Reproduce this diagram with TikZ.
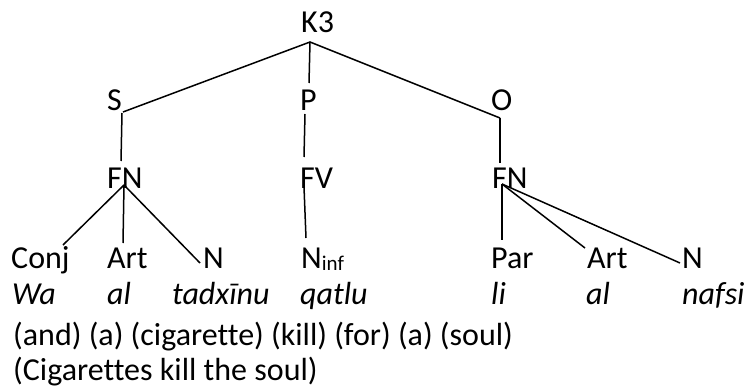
\documentclass[tikz,border=0pt]{standalone}
\usepackage{fontspec}
\setmainfont{Carlito}[RawFeature=-liga]
\begin{document}
\begin{tikzpicture}[x=1pt,y=-1pt,
  lbl/.style={anchor=base west,inner sep=0pt,font=\fontsize{32}{38}\selectfont},
  itl/.style={anchor=base west,inner sep=0pt,font=\fontsize{32}{38}\selectfont\itshape},
  edge/.style={line width=1.5pt}]
\useasboundingbox (0,0) rectangle (746,390);
% tree labels
\node[lbl] (K3) at (301,33) {K3};
\node[lbl] (S) at (107,111) {S};
\node[lbl] (P) at (300,111) {P};
\node[lbl] (O) at (491,111) {O};
\node[lbl] (FN) at (107,188) {FN};
\node[lbl] (FV) at (300,188) {FV};
\node[lbl] (FNb) at (492,188) {FN};
\node[lbl] (Conj) at (11,268) {Conj};
\node[lbl] (Art) at (107,268) {Art};
\node[lbl] (N) at (203,268) {N};
\node[lbl] (Ninf) at (301,268) {N\raisebox{-2pt}{\fontsize{21}{21}\selectfont inf}};
\node[lbl] (Par) at (491,268) {Par};
\node[lbl] (Artb) at (587,268) {Art};
\node[lbl] (Nb) at (682,268) {N};
% transliteration
\node[itl] (w1) at (12,304) {Wa};
\node[itl] (w2) at (107,304) {al};
\node[itl] (w3) at (172,304) {tadxīnu};
\node[itl] (w4) at (300,304) {qatlu};
\node[itl] (w5) at (491,304) {li};
\node[itl] (w6) at (586,304) {al};
\node[itl] (w7) at (682,304) {nafsi};
% glosses
\node[lbl] (g1) at (13,345) {(and) (a) (cigarette) (kill) (for) (a) (soul)};
\node[lbl] (g2) at (13,380) {(Cigarettes kill the soul)};
% connector end points
\coordinate (K3d) at (310,42);
\coordinate (Su) at (123,112);
\coordinate (Sd) at (122,113);
\coordinate (Pu) at (309,83);
\coordinate (Pd) at (305,114);
\coordinate (Ou) at (500,118);
\coordinate (FNu) at (121,161);
\coordinate (FVu) at (304,157);
\coordinate (FNbu) at (500,163);
\coordinate (FNd) at (124,185);
\coordinate (FVd) at (304,187);
\coordinate (FNbd) at (502,184);
\coordinate (Conju) at (63,245);
\coordinate (Artu) at (123,243);
\coordinate (Nu) at (200,263);
\coordinate (Ninfu) at (306,238);
\coordinate (Paru) at (502,240);
\coordinate (Artbu) at (585,248);
\coordinate (Nbu) at (680,263);
% connectors
\draw[edge] (Su) -- (K3d) -- (Ou);
\draw[edge] (K3d) -- (Pu);
\draw[edge] (Sd) -- (FNu);
\draw[edge] (Pd) -- (FVu);
\draw[edge] (Ou) -- (FNbu);
\draw[edge] (FNd) -- (Conju);
\draw[edge] (FNd) -- (Artu);
\draw[edge] (FNd) -- (Nu);
\draw[edge] (FVd) -- (Ninfu);
\draw[edge] (FNbd) -- (Paru);
\draw[edge] (FNbd) -- (Artbu);
\draw[edge] (FNbd) -- (Nbu);
\end{tikzpicture}
\end{document}
